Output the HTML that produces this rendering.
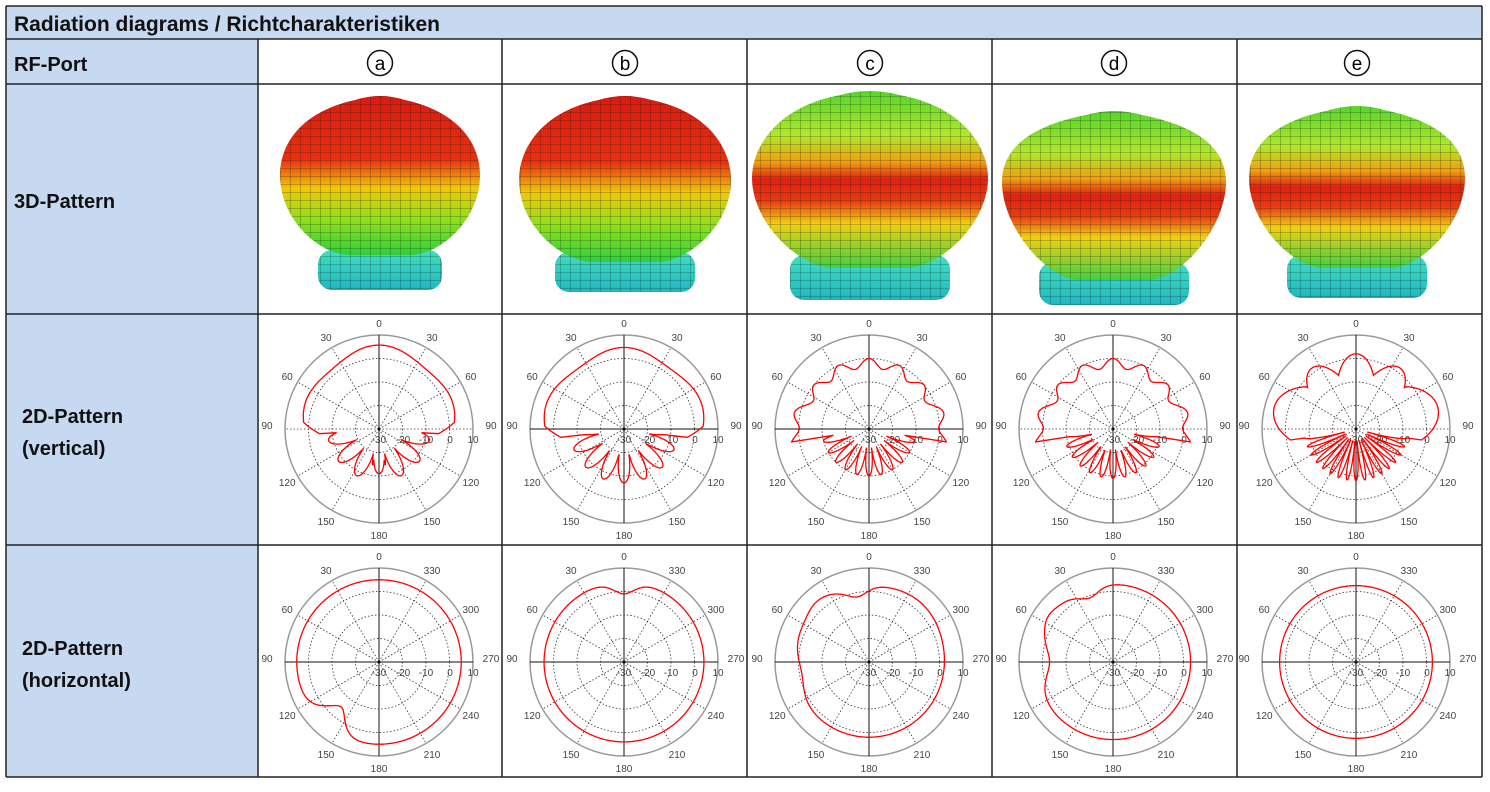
<!DOCTYPE html>
<html><head><meta charset="utf-8"><style>
body{margin:0;background:#fff;width:1490px;height:792px;overflow:hidden}
svg{display:block}
text{font-family:"Liberation Sans",Arial,sans-serif}
</style></head><body>
<svg id="s" width="1490" height="792" xmlns="http://www.w3.org/2000/svg">
<defs>
<pattern id="mesh" width="10" height="8" patternUnits="userSpaceOnUse"><path d="M0 0H10M0 0V8" stroke="#111" stroke-width="0.8" opacity="0.6"/></pattern>
<linearGradient id="gA" x1="0" y1="0" x2="0" y2="1"><stop offset="0" stop-color="#d81b10"/><stop offset="0.4" stop-color="#e8300f"/><stop offset="0.58" stop-color="#f1c70a"/><stop offset="0.78" stop-color="#8ee01a"/><stop offset="1" stop-color="#2fd03a"/></linearGradient>
<linearGradient id="gC" x1="0" y1="0" x2="0" y2="1"><stop offset="0" stop-color="#55d52a"/><stop offset="0.25" stop-color="#b0e82a"/><stop offset="0.4" stop-color="#f0a010"/><stop offset="0.5" stop-color="#e0200f"/><stop offset="0.62" stop-color="#e83a10"/><stop offset="0.75" stop-color="#f0d010"/><stop offset="1" stop-color="#40d040"/></linearGradient>
<linearGradient id="gS" x1="0" y1="0" x2="0" y2="1"><stop offset="0" stop-color="#3fe0c0"/><stop offset="1" stop-color="#20b8c0"/></linearGradient>
</defs>
<g id="g"></g>
</svg>
<script>
const g=document.getElementById('g');let h='';
function add(s){h+=s;}
add('<rect x="6" y="6" width="1476" height="33" fill="#c6d9f0"/>');
add('<rect x="6" y="39" width="252" height="738" fill="#c6d9f0"/>');
const xs=[6,258,502,747,992,1237,1482], ys=[6,39,84,314,545,777];
ys.forEach(y=>add(`<line x1="6" x2="1482" y1="${y}" y2="${y}" stroke="#222" stroke-width="1.5"/>`));
add(`<line x1="6" x2="6" y1="6" y2="777" stroke="#222" stroke-width="1.5"/><line x1="1482" x2="1482" y1="6" y2="777" stroke="#222" stroke-width="1.5"/>`);
xs.slice(1,6).forEach(x=>add(`<line x1="${x}" x2="${x}" y1="39" y2="777" stroke="#222" stroke-width="1.5"/>`));
add('<text x="14" y="31" font-size="21" font-weight="bold" fill="#111">Radiation diagrams / Richtcharakteristiken</text>');
add('<text x="14" y="71" font-size="20" font-weight="bold" fill="#111">RF-Port</text>');
add('<text x="14" y="208" font-size="20" font-weight="bold" fill="#111">3D-Pattern</text>');
add('<text x="22" y="423" font-size="20" font-weight="bold" fill="#111">2D-Pattern</text><text x="22" y="455" font-size="20" font-weight="bold" fill="#111">(vertical)</text>');
add('<text x="22" y="655" font-size="20" font-weight="bold" fill="#111">2D-Pattern</text><text x="22" y="687" font-size="20" font-weight="bold" fill="#111">(horizontal)</text>');
const cx=[380,625,870,1114,1357], L=['a','b','c','d','e'];
cx.forEach((x,i)=>{add(`<circle cx="${x}" cy="63" r="12.5" fill="none" stroke="#111" stroke-width="1.5"/><text x="${x}" y="70" font-size="19" text-anchor="middle">${L[i]}</text>`);});
const B=[[100,175,255,100,'gA',250,290,62],[100,180,262,106,'gA',252,292,70],[95,178,268,118,'gC',255,300,80],[115,182,280,112,'gC',262,305,75],[110,178,268,108,'gC',255,298,70]];
B.forEach((b,i)=>{const c=cx[i];const[t,m,bt,W,gr,s1,s2,sw]=b;
 add(`<rect x="${c-sw}" y="${s1}" width="${2*sw}" height="${s2-s1}" rx="14" fill="url(#gS)"/><rect x="${c-sw}" y="${s1}" width="${2*sw}" height="${s2-s1}" rx="14" fill="url(#mesh)"/>`);
 const p=`M${c-0.25*W},${t} Q${c},${t-8} ${c+0.25*W},${t} C${c+0.8*W},${t+12} ${c+W},${m-30} ${c+W},${m} C${c+W},${m+45} ${c+0.6*W},${bt} ${c+0.3*W},${bt} L${c-0.3*W},${bt} C${c-0.6*W},${bt} ${c-W},${m+45} ${c-W},${m} C${c-W},${m-30} ${c-0.8*W},${t+12} ${c-0.25*W},${t}Z`;
 add(`<path d="${p}" fill="url(#${gr})"/><path d="${p}" fill="url(#mesh)"/>`);
});
const R=94;
function rad(db){return Math.max(0,(db+30)*2.35);}
function polar(c,cy,vert,hline,f){
 add(`<circle cx="${c}" cy="${cy}" r="${R}" fill="none" stroke="#999" stroke-width="1.5"/>`);
 [-20,-10,0].forEach(d=>add(`<circle cx="${c}" cy="${cy}" r="${rad(d)}" fill="none" stroke="#333" stroke-width="0.8" stroke-dasharray="1.5,2"/>`));
 for(let a=0;a<360;a+=30){if(a%180==0)continue;if(hline&&a%90==0)continue;const r=a*Math.PI/180;add(`<line x1="${c}" y1="${cy}" x2="${c+R*Math.sin(r)}" y2="${cy-R*Math.cos(r)}" stroke="#333" stroke-width="0.8" stroke-dasharray="1.5,2"/>`);}
 add(`<line x1="${c}" y1="${cy-R}" x2="${c}" y2="${cy+R}" stroke="#111" stroke-width="1"/>`);
 if(hline)add(`<line x1="${c-R}" y1="${cy}" x2="${c+R}" y2="${cy}" stroke="#111" stroke-width="1"/>`);
 const lb=vert?{0:'0',30:'30',60:'60',90:'90',120:'120',150:'150',180:'180',210:'150',240:'120',270:'90',300:'60',330:'30'}:{0:'0',330:'30',300:'60',270:'90',240:'120',210:'150',180:'180',150:'210',120:'240',90:'270',60:'300',30:'330'};
 for(const k in lb){const r=k*Math.PI/180;const rr=R+12;let x=c+rr*Math.sin(r),y=cy-rr*Math.cos(r)+4;if(k==90){x+=6;y-=4}if(k==270){x-=6;y-=4}add(`<text x="${x}" y="${y}" font-size="10" fill="#444" text-anchor="middle">${lb[k]}</text>`);}
 [['-30',0],['-20',24],['-10',47],['0',71],['10',94]].forEach(([t,r])=>add(`<text x="${c+r}" y="${cy+14}" font-size="10" fill="#444" text-anchor="middle">${t}</text>`));
 add(`<circle cx="${c}" cy="${cy}" r="1.6" fill="#111"/>`);
 let d='';for(let a=0;a<=720;a+=1){const aa=a/2;const r=rad(f(aa>180?aa-360:aa));const q=aa*Math.PI/180;d+=(a?'L':'M')+(c+r*Math.sin(q)).toFixed(1)+','+(cy-r*Math.cos(q)).toFixed(1);}
 add(`<path d="${d}Z" fill="none" stroke="#f00" stroke-width="1.3"/>`);
}
const cs=Math.cos,PI=Math.PI,D=x=>x*PI/180;
function lower(a,base,amp,n){const u=Math.abs(a);return base+amp*Math.pow(Math.abs(cs(D(u*n))),0.7);}
const V=[
 a=>{const u=Math.abs(a);if(u<95)return 3+3*cs(D(u*1.8))*0.5+1.2*cs(D(u*5))-(u>85?(u-85)*0.6:0);return lower(a,-20,12,7)-(u>170?3:0);},
 a=>{const u=Math.abs(a);if(u<98)return 3.5+1.2*cs(D(u*5))-(u>88?(u-88)*0.6:0);return lower(a,-20,13,8);},
 a=>{const u=Math.abs(a);if(u<100)return -2+2*cs(D(u*14))+(u>60?4*Math.sin(D((u-60)*2.2)):0);return lower(a,-22,12,12);},
 a=>{const u=Math.abs(a);if(u<100)return -2+2*cs(D(u*14))+(u>60?4*Math.sin(D((u-60)*2.2)):0);return lower(a,-22,13,13);},
 a=>{const u=Math.abs(a);if(u<50)return -6+8*Math.abs(cs(D(u*5)));if(u<100)return -2+8*Math.sin(D((u-50)*3.6));return lower(a,-25,17,18);}
];
const H=[
 a=>5-10*Math.exp(-Math.pow((a+140)/14,2)),
 a=>4-5*Math.exp(-Math.pow(a/12,2)),
 a=>{return 2-4*Math.exp(-Math.pow((a+10)/12,2))+2*Math.exp(-Math.pow((a+40)/15,2))-3*Math.exp(-Math.pow((a+100)/20,2))+1.5*Math.exp(-Math.pow((a-40)/30,2));},
 a=>{return 3-4*Math.exp(-Math.pow((a+20)/12,2))-6*Math.exp(-Math.pow((a+90)/20,2))+1*Math.exp(-Math.pow((a+55)/10,2));},
 a=>2.5
];
const hl=[false,true,true,false,false];
cx.forEach((c,i)=>{polar(c-1,429,true,hl[i],V[i]);polar(c-1,662,false,true,H[i]);});
g.innerHTML=h;
</script>
</body></html>
